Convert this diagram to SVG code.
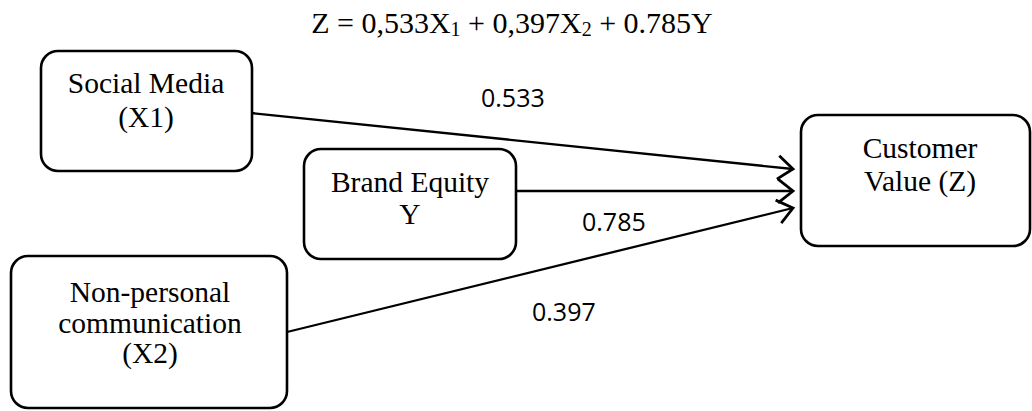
<svg xmlns="http://www.w3.org/2000/svg" width="1032" height="411" viewBox="0 0 1032 411">
  <style>
    .box { fill: #ffffff; stroke: #000000; stroke-width: 2.6; }
    .t { font-family: "Liberation Serif", "Times New Roman", serif; font-size: 29.5px; fill: #000000; text-anchor: middle; }
    .eq { font-family: "Liberation Serif", "Times New Roman", serif; font-size: 30px; fill: #000000; text-anchor: middle; }
    .lbl { font-family: "Open Sans", "Liberation Sans", sans-serif; font-size: 25px; fill: #000000; }
    .edge { stroke: #000000; stroke-width: 2.3; fill: none; marker-end: url(#chev); }
  </style>
  <defs>
    <marker id="chev" markerUnits="userSpaceOnUse" markerWidth="30" markerHeight="30" viewBox="-16 -14 20 28" refX="0" refY="0" orient="auto" overflow="visible">
      <path d="M-14,-11 L0,0 L-14,11" fill="none" stroke="#000000" stroke-width="2.6" stroke-linejoin="miter"/>
    </marker>
  </defs>

  <text class="eq" x="512" y="33">Z = 0,533X<tspan font-size="20" dy="3">1</tspan><tspan dy="-3"> + 0,397X</tspan><tspan font-size="20" dy="3">2</tspan><tspan dy="-3"> + 0.785Y</tspan></text>

  <g id="connectors">
    <line class="edge" x1="251" y1="113" x2="793" y2="169"/>
    <line class="edge" x1="516" y1="191" x2="793" y2="191"/>
    <line class="edge" x1="287" y1="332" x2="793" y2="208"/>
  </g>

  <g id="node-social-media">
    <rect class="box" x="41" y="51" width="211" height="120" rx="17" ry="17"/>
    <text class="t" x="146" y="93">Social Media</text>
    <text class="t" x="146" y="127">(X1)</text>
  </g>

  <g id="node-brand-equity">
    <rect class="box" x="304" y="149" width="212" height="110" rx="17" ry="17"/>
    <text class="t" x="410" y="192">Brand Equity</text>
    <text class="t" x="410" y="224">Y</text>
  </g>

  <g id="node-customer-value">
    <rect class="box" x="801" y="115" width="229" height="131" rx="17" ry="17"/>
    <text class="t" x="920" y="158">Customer</text>
    <text class="t" x="920" y="191">Value (Z)</text>
  </g>

  <g id="node-non-personal">
    <rect class="box" x="11" y="256" width="276" height="152" rx="17" ry="17"/>
    <text class="t" x="150" y="302">Non-personal</text>
    <text class="t" x="150" y="333">communication</text>
    <text class="t" x="150" y="363">(X2)</text>
  </g>

  <g id="labels">
    <text class="lbl" x="481" y="107">0.533</text>
    <text class="lbl" x="582" y="231">0.785</text>
    <text class="lbl" x="532" y="321">0.397</text>
  </g>
</svg>
